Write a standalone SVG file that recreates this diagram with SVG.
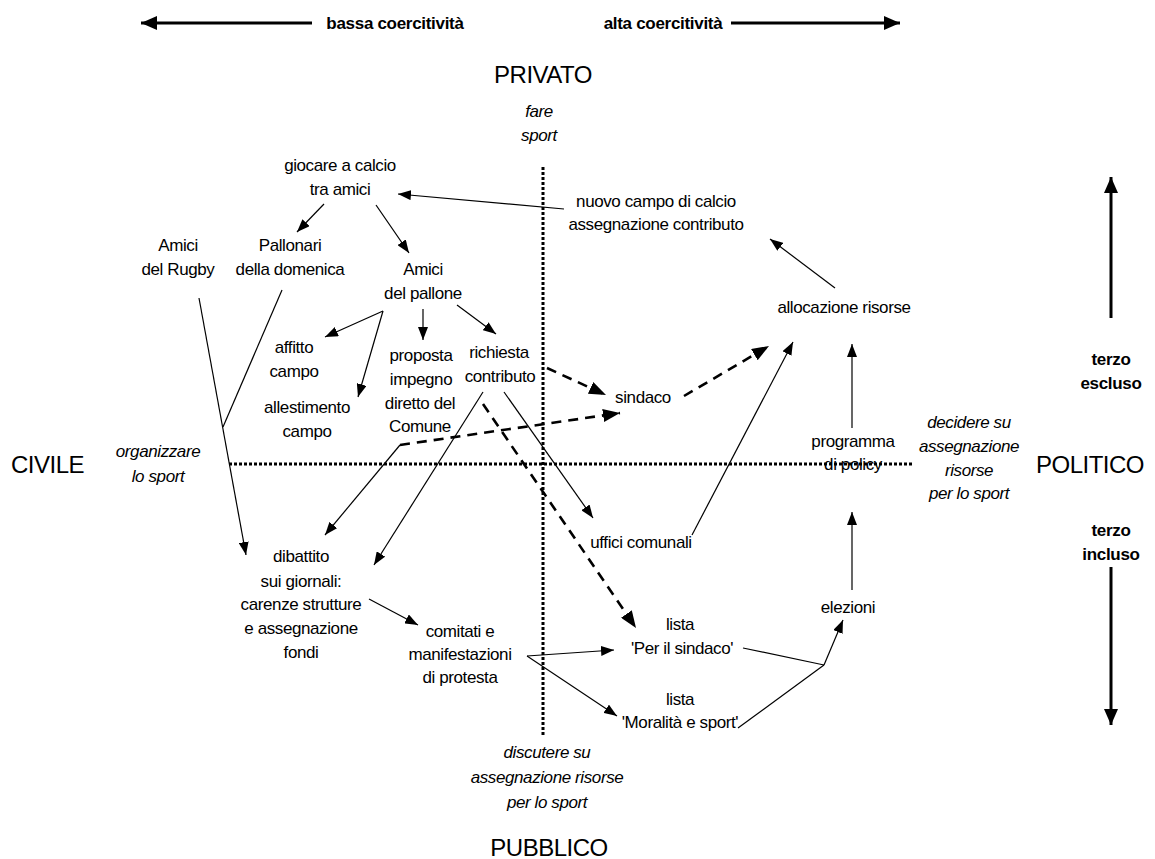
<svg xmlns="http://www.w3.org/2000/svg" width="1155" height="859" viewBox="0 0 1155 859">
<defs>
<style>
text{font-family:"Liberation Sans",Arial,sans-serif;font-size:17px;fill:#000;letter-spacing:-0.4px;text-anchor:middle}
.it{font-style:italic}
.b{font-weight:bold;letter-spacing:-0.3px}
.big{font-size:24px;letter-spacing:-0.5px}
.c{stroke:#000;stroke-width:1.2;fill:none;marker-end:url(#ah)}
.n{stroke:#000;stroke-width:1.2;fill:none}
.d{stroke:#000;stroke-width:2.6;fill:none;stroke-dasharray:10 7;marker-end:url(#ahd)}
.ax{stroke:#000;stroke-width:3;fill:none;stroke-dasharray:3 2}
.th{stroke:#000;stroke-width:3;fill:none;marker-end:url(#aht)}
</style>
<marker id="ah" markerUnits="userSpaceOnUse" markerWidth="13" markerHeight="10" refX="13" refY="5" orient="auto"><path d="M0,0 L13,5 L0,10 z" fill="#000"/></marker>
<marker id="ahd" markerUnits="userSpaceOnUse" markerWidth="17" markerHeight="13" refX="17" refY="6.5" orient="auto"><path d="M0,0 L17,6.5 L0,13 z" fill="#000"/></marker>
<marker id="aht" markerUnits="userSpaceOnUse" markerWidth="16" markerHeight="14" refX="16" refY="7" orient="auto"><path d="M0,0 L16,7 L0,14 z" fill="#000"/></marker>
</defs>
<rect width="1155" height="859" fill="#fff"/>

<g id="axes">
<line class="ax" x1="543" y1="167" x2="543" y2="737"/>
<line class="ax" x1="229" y1="464" x2="914" y2="464"/>
<line class="th" x1="312" y1="23" x2="141" y2="23"/>
<line class="th" x1="731" y1="23" x2="900" y2="23"/>
<line class="th" x1="1111" y1="318" x2="1111" y2="177"/>
<line class="th" x1="1111" y1="567" x2="1111" y2="725"/>
</g>

<g id="labels">
<text class="b" x="395" y="29">bassa coercitività</text>
<text class="b" x="663" y="29">alta coercitività</text>
<text class="big" x="543" y="83">PRIVATO</text>
<text class="it" x="539" y="117">fare</text>
<text class="it" x="539" y="141">sport</text>
<text class="big" x="11" y="473" style="text-anchor:start">CIVILE</text>
<text class="it" x="158" y="457">organizzare</text>
<text class="it" x="158" y="482">lo sport</text>
<text class="big" x="1144" y="473" style="text-anchor:end">POLITICO</text>
<text class="it" x="969" y="428">decidere su</text>
<text class="it" x="969" y="452">assegnazione</text>
<text class="it" x="969" y="476">risorse</text>
<text class="it" x="969" y="499">per lo sport</text>
<text class="it" x="547" y="758">discutere su</text>
<text class="it" x="547" y="783">assegnazione risorse</text>
<text class="it" x="547" y="808">per lo sport</text>
<text class="big" x="549" y="856">PUBBLICO</text>
<text class="b" x="1111" y="365">terzo</text>
<text class="b" x="1111" y="389">escluso</text>
<text class="b" x="1111" y="536">terzo</text>
<text class="b" x="1111" y="560">incluso</text>
</g>

<g id="n-giocare"><text x="340" y="171">giocare a calcio</text><text x="340" y="195">tra amici</text></g>
<g id="n-rugby"><text x="178" y="251">Amici</text><text x="178" y="275">del Rugby</text></g>
<g id="n-pallonari"><text x="290" y="251">Pallonari</text><text x="290" y="275">della domenica</text></g>
<g id="n-amicipallone"><text x="423" y="275">Amici</text><text x="423" y="299">del pallone</text></g>
<g id="n-affitto"><text x="294" y="353">affitto</text><text x="294" y="377">campo</text></g>
<g id="n-allestimento"><text x="307" y="413">allestimento</text><text x="307" y="437">campo</text></g>
<g id="n-proposta"><text x="421" y="361">proposta</text><text x="421" y="385">impegno</text><text x="420" y="409">diretto del</text><text x="420" y="432">Comune</text></g>
<g id="n-richiesta"><text x="499" y="358">richiesta</text><text x="500" y="382">contributo</text></g>
<g id="n-nuovocampo"><text x="656" y="207">nuovo campo di calcio</text><text x="656" y="230">assegnazione contributo</text></g>
<g id="n-allocazione"><text x="844" y="313">allocazione risorse</text></g>
<g id="n-sindaco"><text x="643" y="403">sindaco</text></g>
<g id="n-programma"><text x="853" y="447">programma</text><text x="853" y="470">di policy</text></g>
<g id="n-uffici"><text x="641" y="548">uffici comunali</text></g>
<g id="n-dibattito"><text x="301" y="562">dibattito</text><text x="301" y="587">sui giornali:</text><text x="301" y="610">carenze strutture</text><text x="301" y="634">e assegnazione</text><text x="301" y="658">fondi</text></g>
<g id="n-comitati"><text x="460" y="637">comitati e</text><text x="460" y="660">manifestazioni</text><text x="460" y="683">di protesta</text></g>
<g id="n-listasindaco"><text x="680" y="630">lista</text><text x="682" y="654">'Per il sindaco'</text></g>
<g id="n-listamoralita"><text x="680" y="705">lista</text><text x="680" y="728">'Moralità e sport'</text></g>
<g id="n-elezioni"><text x="848" y="613">elezioni</text></g>

<g id="connectors">
<line class="c" x1="564" y1="209" x2="398" y2="194"/>
<line class="c" x1="324" y1="204" x2="297" y2="232"/>
<line class="c" x1="376" y1="205" x2="409" y2="253"/>
<line class="c" x1="199" y1="298" x2="246" y2="555"/>
<line class="n" x1="282" y1="290" x2="223" y2="427"/>
<line class="c" x1="383" y1="311" x2="325" y2="337"/>
<line class="c" x1="383" y1="311" x2="358" y2="397"/>
<line class="c" x1="423" y1="309" x2="423" y2="340"/>
<line class="c" x1="457" y1="305" x2="496" y2="334"/>
<line class="d" x1="547" y1="368" x2="606" y2="395"/>
<line class="d" x1="400" y1="445" x2="620" y2="413"/>
<line class="c" x1="400" y1="445" x2="325" y2="535"/>
<line class="c" x1="483" y1="392" x2="374" y2="565"/>
<line class="d" x1="483" y1="404" x2="636" y2="628"/>
<line class="c" x1="504" y1="392" x2="593" y2="518"/>
<line class="d" x1="684" y1="396" x2="769" y2="346"/>
<line class="c" x1="692" y1="535" x2="793" y2="342"/>
<line class="c" x1="852" y1="428" x2="852" y2="344"/>
<line class="c" x1="835" y1="288" x2="770" y2="239"/>
<line class="c" x1="369" y1="599" x2="418" y2="625"/>
<line class="c" x1="527" y1="656" x2="614" y2="650"/>
<line class="c" x1="527" y1="656" x2="617" y2="716"/>
<line class="n" x1="743" y1="648" x2="824" y2="665"/>
<line class="n" x1="738" y1="728" x2="824" y2="665"/>
<line class="c" x1="824" y1="665" x2="843" y2="620"/>
<line class="c" x1="852" y1="590" x2="852" y2="512"/>
</g>
</svg>
